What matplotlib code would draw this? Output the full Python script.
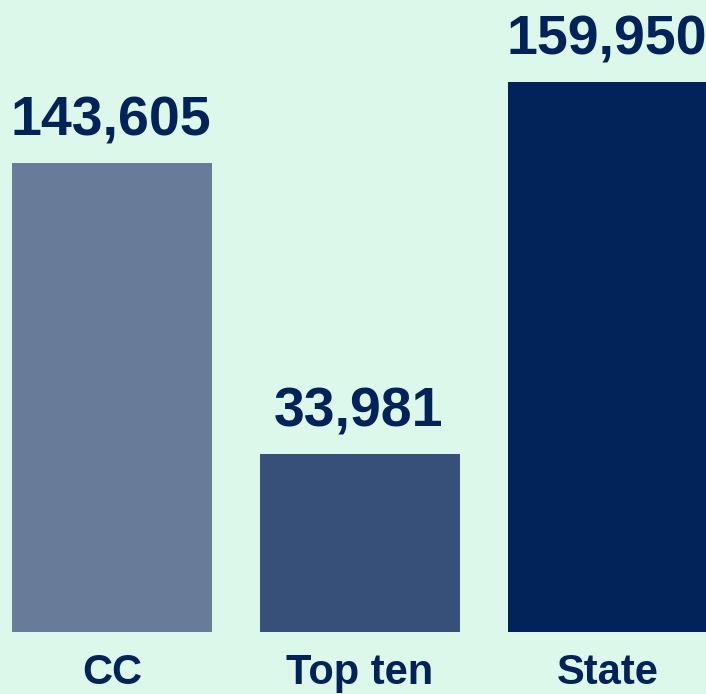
import matplotlib.pyplot as plt

# data
categories = ["CC", "Top ten", "State"]
value_labels = [143605, 33981, 159950]
# bar heights as drawn (relative, State = 100); they are not proportional to the labels
bar_heights = [85.3, 32.4, 100.0]
bar_colors = ["#687C9A", "#365079", "#022359"]

bg = "#DCF8EA"
text_color = "#022359"

plt.rcParams['font.family'] = ['Liberation Sans', 'DejaVu Sans']

fig = plt.figure(figsize=(7.06, 6.94), dpi=100, facecolor=bg)
ax = fig.add_axes([0, 0, 1, 1])
ax.set_facecolor(bg)

x = list(range(len(categories)))
bars = ax.bar(x, bar_heights, width=200 / 248, color=bar_colors)

# value labels above the bars
for xi, h, v in zip(x, bar_heights, value_labels):
    ax.annotate(f"{v:,}", (xi, h), xytext=(-1, 20), textcoords="offset points",
                ha="center", va="baseline", fontsize=40, fontweight="bold",
                color=text_color)

# category labels along the bottom
for xi, c in zip(x, categories):
    ax.text(xi, 10 / 694, c, transform=ax.get_xaxis_transform(),
            ha="center", va="baseline", fontsize=30, fontweight="bold",
            color=text_color)

ax.set_xlim(-112 / 248, -112 / 248 + 706 / 248)
ax.set_ylim(-62 / 5.5, (694 - 62) / 5.5)
ax.axis("off")

fig.savefig("out.png", dpi=100, facecolor=bg)
